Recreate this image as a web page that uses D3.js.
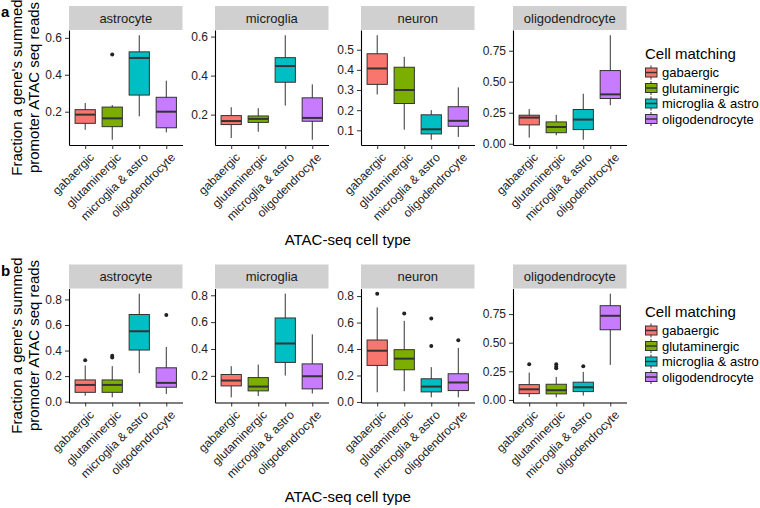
<!DOCTYPE html>
<html>
<head>
<meta charset="utf-8">
<script src="https://cdn.jsdelivr.net/npm/d3@7"></script>
<style>
  body { margin: 0; background: #fff; }
  text { font-family: "Liberation Sans", Arial, sans-serif; }
</style>
</head>
<body>
<div id="chart"></div>
<script>
const WIDTH = 760;
const HEIGHT = 508;

const facets = ["astrocyte", "microglia", "neuron", "oligodendrocyte"];
const matching = ["gabaergic", "glutaminergic", "microglia & astro", "oligodendrocyte"];
const colors = ["#F8766D", "#7CAE00", "#00BFC4", "#C77CFF"];

// [lower whisker, q1, median, q3, upper whisker], one row per facet, one box per matching type
const boxesA = [
  [[0.102, 0.137, 0.184, 0.211, 0.247], [0.048, 0.119, 0.164, 0.225, 0.236], [0.175, 0.290, 0.491, 0.524, 0.614], [0.088, 0.113, 0.200, 0.278, 0.368]],
  [[0.080, 0.149, 0.167, 0.195, 0.238], [0.112, 0.160, 0.178, 0.193, 0.233], [0.246, 0.366, 0.449, 0.492, 0.607], [0.071, 0.166, 0.183, 0.286, 0.355]],
  [[0.278, 0.328, 0.407, 0.480, 0.572], [0.103, 0.233, 0.300, 0.413, 0.465], [0.053, 0.082, 0.105, 0.177, 0.200], [0.067, 0.120, 0.147, 0.217, 0.313]],
  [[0.049, 0.152, 0.211, 0.230, 0.279], [0.068, 0.089, 0.135, 0.176, 0.233], [0.032, 0.114, 0.195, 0.276, 0.403], [0.311, 0.365, 0.398, 0.590, 0.875]]
];
const outliersA = [
  [[], [0.51], [], []],
  [[], [], [], []],
  [[], [], [], []],
  [[], [], [], []]
];
const tickLabelsA = [
  ["0.2", "0.4", "0.6"],
  ["0.2", "0.4", "0.6"],
  ["0.1", "0.2", "0.3", "0.4", "0.5"],
  ["0.00", "0.25", "0.50", "0.75"]
];

const boxesB = [
  [[0.047, 0.073, 0.131, 0.170, 0.283], [0.034, 0.073, 0.131, 0.170, 0.278], [0.223, 0.404, 0.551, 0.682, 0.845], [0.060, 0.113, 0.147, 0.265, 0.428]],
  [[0.040, 0.125, 0.165, 0.210, 0.272], [0.050, 0.088, 0.120, 0.187, 0.284], [0.202, 0.300, 0.441, 0.631, 0.812], [0.068, 0.103, 0.197, 0.289, 0.509]],
  [[0.073, 0.276, 0.387, 0.468, 0.714], [0.081, 0.243, 0.327, 0.395, 0.613], [0.035, 0.076, 0.116, 0.175, 0.263], [0.035, 0.086, 0.147, 0.213, 0.408]],
  [[0.026, 0.055, 0.093, 0.134, 0.239], [0.023, 0.053, 0.085, 0.137, 0.201], [0.038, 0.073, 0.111, 0.155, 0.245], [0.306, 0.613, 0.735, 0.823, 0.928]]
];
const outliersB = [
  [[0.325], [0.346, 0.359], [], [0.679]],
  [[], [], [], []],
  [[0.818], [0.668], [0.423, 0.630], [0.466]],
  [[0.312], [0.277, 0.289, 0.312], [0.295], []]
];
const tickLabelsB = [
  ["0.0", "0.2", "0.4", "0.6", "0.8"],
  ["0.2", "0.4", "0.6", "0.8"],
  ["0.0", "0.2", "0.4", "0.6", "0.8"],
  ["0.00", "0.25", "0.50", "0.75"]
];

const PANEL_LEFT = [69, 215, 361, 513];
const PANEL_W = 113.5;
const STRIP_H = 24;

const svg = d3.select("#chart")
  .append("svg")
  .attr("width", WIDTH)
  .attr("height", HEIGHT);

function drawRow(boxes, outliers, tickLabels, top, bottom, tag, titleY, legendY) {
  const rowMid = (top + bottom) / 2;

  // panel label
  svg.append("text")
    .attr("x", 1).attr("y", top - 13)
    .style("font-size", "15px").style("font-weight", "bold")
    .text(tag);

  // y axis title, two lines
  const yt = svg.append("text")
    .attr("transform", "translate(22," + rowMid + ") rotate(-90)")
    .attr("text-anchor", "middle")
    .style("font-size", "15px");
  yt.append("tspan").attr("x", 0).attr("y", 0).text("Fraction a gene's summed");
  yt.append("tspan").attr("x", 0).attr("y", 16.5).text("promoter ATAC seq reads");

  facets.forEach((facet, fi) => {
    const left = PANEL_LEFT[fi];
    const g = svg.append("g").attr("transform", "translate(" + left + ",0)");

    // strip
    g.append("rect")
      .attr("x", 0).attr("y", top - STRIP_H)
      .attr("width", PANEL_W).attr("height", STRIP_H)
      .attr("fill", "#d0d0d0");
    g.append("text")
      .attr("x", PANEL_W / 2).attr("y", top - STRIP_H / 2 + 4.5)
      .attr("text-anchor", "middle")
      .style("font-size", "13px").attr("fill", "#1a1a1a")
      .text(facet);

    // scales (ggplot style 5% expansion)
    const vals = [];
    boxes[fi].forEach(b => { vals.push(b[0], b[4]); });
    outliers[fi].forEach(o => vals.push(...o));
    const [lo, hi] = d3.extent(vals);
    const pad = (hi - lo) * 0.05;
    const y = d3.scaleLinear().domain([lo - pad, hi + pad]).range([bottom, top]);
    const x = d3.scalePoint().domain(matching).range([0, PANEL_W]).padding(0.6);
    const bw = x.step() * 0.75;

    const box = g.selectAll("g.box")
      .data(boxes[fi])
      .enter()
      .append("g")
      .attr("class", "box");

    box.append("line")
      .attr("x1", (d, i) => x(matching[i])).attr("x2", (d, i) => x(matching[i]))
      .attr("y1", d => y(d[0])).attr("y2", d => y(d[4]))
      .attr("stroke", "#333").attr("stroke-width", 1);
    box.append("rect")
      .attr("x", (d, i) => x(matching[i]) - bw / 2)
      .attr("y", d => y(d[3]))
      .attr("width", bw)
      .attr("height", d => y(d[1]) - y(d[3]))
      .attr("fill", (d, i) => colors[i])
      .attr("stroke", "#333").attr("stroke-width", 1);
    box.append("line")
      .attr("x1", (d, i) => x(matching[i]) - bw / 2).attr("x2", (d, i) => x(matching[i]) + bw / 2)
      .attr("y1", d => y(d[2])).attr("y2", d => y(d[2]))
      .attr("stroke", "#333").attr("stroke-width", 2);

    outliers[fi].forEach((os, i) => {
      g.selectAll(null)
        .data(os)
        .enter()
        .append("circle")
        .attr("cx", x(matching[i]))
        .attr("cy", d => y(d))
        .attr("r", 2)
        .attr("fill", "#222");
    });

    // axes
    const labels = tickLabels[fi];
    const yAxis = d3.axisLeft(y)
      .tickValues(labels.map(Number))
      .tickFormat((d, i) => labels[i])
      .tickSize(4).tickSizeOuter(0).tickPadding(3);
    const ya = g.append("g").call(yAxis);
    ya.selectAll("text").style("font-size", "12px").attr("fill", "#222");

    const xAxis = d3.axisBottom(x).tickSize(4).tickSizeOuter(0).tickPadding(3);
    const xa = g.append("g")
      .attr("transform", "translate(0," + bottom + ")")
      .call(xAxis);
    xa.selectAll("text")
      .style("font-size", "12px").attr("fill", "#222")
      .attr("text-anchor", "end")
      .attr("dy", "0.72em")
      .attr("y", 7)
      .attr("x", 3)
      .attr("transform", "rotate(-45 3 7)");
    [ya, xa].forEach(a => {
      a.select(".domain").attr("stroke", "#000").attr("stroke-width", 1.1);
      a.selectAll(".tick line").attr("stroke", "#333");
    });
  });

  // x axis title
  svg.append("text")
    .attr("x", (PANEL_LEFT[0] + PANEL_LEFT[3] + PANEL_W) / 2)
    .attr("y", titleY)
    .attr("text-anchor", "middle")
    .style("font-size", "15px")
    .text("ATAC-seq cell type");

  // legend
  const lg = svg.append("g").attr("transform", "translate(645," + legendY + ")");
  lg.append("text").attr("x", 0).attr("y", 0).style("font-size", "15px").text("Cell matching");
  matching.forEach((m, i) => {
    const cy = 13.5 + i * 15.5;
    lg.append("line").attr("x1", 6).attr("x2", 6).attr("y1", cy - 7).attr("y2", cy + 7)
      .attr("stroke", "#333");
    lg.append("rect").attr("x", 0.5).attr("y", cy - 4.5).attr("width", 11.5).attr("height", 9)
      .attr("fill", colors[i]).attr("stroke", "#333");
    lg.append("line").attr("x1", 0.5).attr("x2", 12).attr("y1", cy).attr("y2", cy)
      .attr("stroke", "#333").attr("stroke-width", 1.5);
    lg.append("text").attr("x", 17).attr("y", cy + 4.5).style("font-size", "13px").text(m);
  });
}

drawRow(boxesA, outliersA, tickLabelsA, 30, 145, "a", 245, 59);
drawRow(boxesB, outliersB, tickLabelsB, 288.5, 402.5, "b", 502, 317);
</script>
</body>
</html>
